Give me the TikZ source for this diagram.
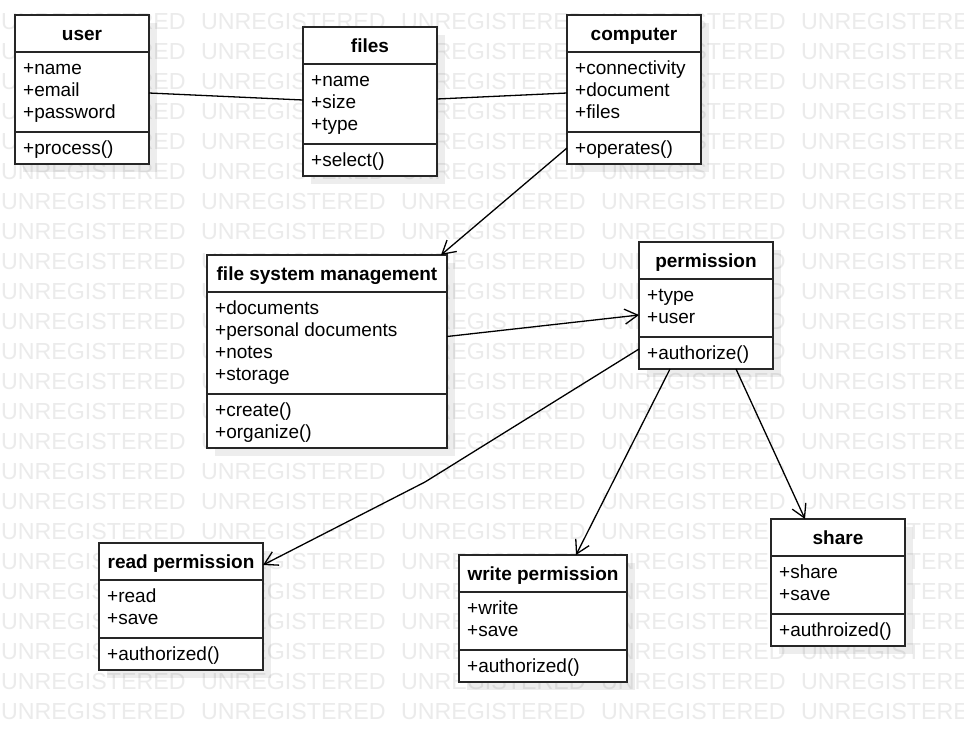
\documentclass[tikz,border=0pt]{standalone}
\usepackage{fontspec}
\setmainfont{Liberation Sans}
\usetikzlibrary{arrows.meta,shadows}
\tikzset{
 umlbox/.style={draw=black!85, line width=1.8pt, fill=white, inner sep=0pt, outer sep=0pt,
   drop shadow={shadow xshift=8pt, shadow yshift=-8pt, fill=black, opacity=0.07}},
 sepline/.style={draw=black!85, line width=1.8pt},
 ttl/.style={font=\fontsize{19}{22}\selectfont\bfseries, anchor=base, inner sep=0pt},
 mem/.style={font=\fontsize{19}{22}\selectfont, anchor=base west, inner sep=0pt},
 wmark/.style={font=\fontsize{23.2}{24}\selectfont, text=black!8, anchor=base west, inner sep=0pt},
 assoc/.style={draw=black, line width=1.3pt},
 navi/.style={assoc, -{Straight Barb[length=13pt,width=15pt]}},
}
\newcommand\umlcls[9]{%
 \pgfmathsetmacro\uha{14+22*#5}%
 \pgfmathsetmacro\uhm{10+22*#6}%
 \pgfmathsetmacro\uht{37+\uha+\uhm}%
 \node[umlbox, minimum width=#4pt, minimum height=\uht pt, anchor=north west] (#1) at (#2,#3) {};
 \draw[sepline] (#2,#3+37) -- (#2+#4,#3+37);
 \draw[sepline] (#2,#3+37+\uha) -- (#2+#4,#3+37+\uha);
 \node[ttl] (#1-title) at (#2+#4/2,#3+25) {#7};
 \foreach \s [count=\i from 0] in {#8} {\node[mem] (#1-a\i) at (#2+8,#3+59.5+22*\i) {\s};}
 \foreach \s [count=\i from 0] in {#9} {\node[mem] (#1-m\i) at (#2+8,#3+59.5+\uha+22*\i) {\s};}
}
\begin{document}
\begin{tikzpicture}[x=1pt,y=-1pt]
\useasboundingbox (0,0) rectangle (964,742);
\fill[white] (0,0) rectangle (964,742);
\begin{scope}
\clip (0,0) rectangle (964,742);
\foreach \r in {0,...,23} {
  \foreach \c in {0,...,4} {
    \node[wmark] (wm-\r-\c) at (1+200*\c, 29+30*\r) {UNREGISTERED};
  }
}
\end{scope}

\umlcls{user}{15}{15}{134}{3}{1}{user}{+name,+email,+password}{+process()}
\umlcls{files}{303}{27}{134}{3}{1}{files}{+name,+size,+type}{+select()}
\umlcls{computer}{567}{15}{134}{3}{1}{computer}{+connectivity,+document,+files}{+operates()}
\umlcls{fsm}{207}{255}{240}{4}{2}{file system management}{+documents,+personal documents,+notes,+storage}{+create(),+organize()}
\umlcls{perm}{639}{242}{134}{2}{1}{permission}{+type,+user}{+authorize()}
\umlcls{readp}{99}{543}{164}{2}{1}{read permission}{+read,+save}{+authorized()}
\umlcls{writep}{459}{555}{168}{2}{1}{write permission}{+write,+save}{+authorized()}
\umlcls{share}{771}{519}{134}{2}{1}{share}{+share,+save}{+authroized()}

\draw[assoc] ([yshift=-3.5pt]user.east) -- ([yshift=1.5pt]files.west);
\draw[assoc] ([yshift=2.5pt]files.east) -- ([yshift=-3.5pt]computer.west);
\draw[navi] ([yshift=16pt]computer.south west) -- ([xshift=-6pt]fsm.north east);
\draw[navi] ([yshift=15pt]fsm.east) -- ([yshift=-9.5pt]perm.west);
\coordinate (bend) at (425,482);
\draw[navi] ([yshift=20pt]perm.south west) -- (bend) -- ([yshift=-22pt]readp.north east);
\draw[navi] ([xshift=31pt]perm.south west) -- ([xshift=117pt]writep.north west);
\draw[navi] ([xshift=97pt]perm.south west) -- ([xshift=34pt]share.north west);
\end{tikzpicture}
\end{document}
